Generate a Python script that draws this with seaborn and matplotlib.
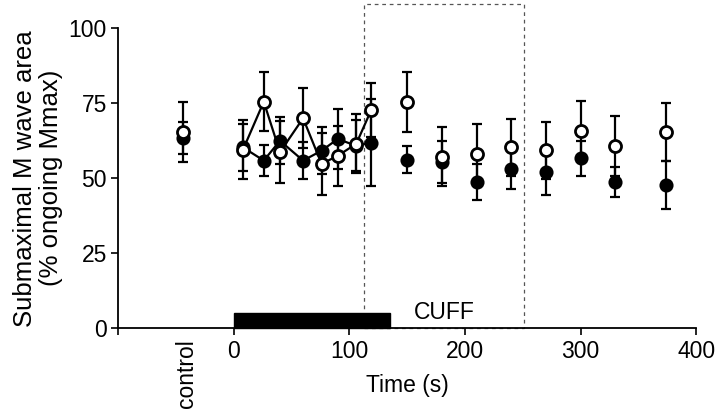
import matplotlib
matplotlib.use("Agg")
import matplotlib.pyplot as plt
import matplotlib.patches as mpatches
import seaborn as sns
import pandas as pd

# ---- data ----
control_x = -44
control_open = 65.4
control_open_err = 9.9
control_filled = 63.3
control_filled_err = 5.3

cuff_t = [8, 26, 40, 60, 76, 90, 106, 119]
cuff_open = [59.5, 75.5, 58.7, 70.0, 54.8, 57.5, 61.5, 72.8]
cuff_open_err = [9.9, 9.8, 10.3, 10.0, 10.4, 10.0, 9.8, 8.9]
cuff_filled = [60.3, 55.9, 62.5, 55.9, 59.2, 63.1, 60.8, 61.9]
cuff_filled_err = [7.9, 5.3, 7.9, 6.1, 7.8, 9.9, 8.5, 14.5]

post_t = [150, 180, 210, 240, 270, 300, 330, 374]
post_open = [75.5, 57.2, 58.1, 60.3, 59.4, 65.9, 60.8, 65.4]
post_open_err = [10.0, 9.9, 10.0, 9.5, 9.5, 10.0, 10.0, 9.7]
post_filled = [56.2, 55.4, 48.7, 53.0, 52.0, 56.7, 48.9, 47.8]
post_filled_err = [4.5, 7.0, 6.0, 6.7, 7.6, 5.8, 5.0, 8.0]

x_ticks = [0, 100, 200, 300, 400]
y_ticks = [0, 25, 50, 75, 100]
cuff_bar = (0, 135, 5.2)          # start, end, height
window = (112.6, 251, 108)        # dashed box: x0, x1, top
cuff_label = "CUFF"

sns.set_theme(style="white")
plt.rcParams['font.family'] = ['Liberation Sans', 'DejaVu Sans']

fig = plt.figure(figsize=(7.2, 4.2), dpi=100)
ax = fig.add_axes([0.164, 0.218, 0.803, 0.715])

cuff_df = pd.DataFrame({"t": cuff_t + cuff_t,
                        "v": cuff_open + cuff_filled,
                        "s": ["open"] * len(cuff_t) + ["filled"] * len(cuff_t)})

all_t = [control_x] + cuff_t + post_t
all_open = [control_open] + cuff_open + post_open
all_open_err = [control_open_err] + cuff_open_err + post_open_err
all_filled = [control_filled] + cuff_filled + post_filled
all_filled_err = [control_filled_err] + cuff_filled_err + post_filled_err

# error bars
ax.errorbar(all_t, all_filled, yerr=all_filled_err, fmt='none', ecolor='black',
            elinewidth=1.6, capsize=3.8, capthick=1.6, zorder=2)
ax.errorbar(all_t, all_open, yerr=all_open_err, fmt='none', ecolor='black',
            elinewidth=1.6, capsize=3.8, capthick=1.6, zorder=2)

# connecting lines during cuff
sns.lineplot(data=cuff_df, x="t", y="v", units="s", estimator=None, color='black',
             linewidth=1.6, ax=ax, zorder=3, legend=False)

# markers
sns.scatterplot(x=all_t, y=all_filled, ax=ax, s=75, color='black',
                edgecolor='black', linewidth=1.5, zorder=4, legend=False)
sns.scatterplot(x=all_t, y=all_open, ax=ax, s=75, color='white',
                edgecolor='black', linewidth=2.0, zorder=5, legend=False)

# cuff bar
ax.add_patch(mpatches.Rectangle((cuff_bar[0], 0), cuff_bar[1] - cuff_bar[0], cuff_bar[2],
                                facecolor='black', edgecolor='black', zorder=6, clip_on=False))
ax.text(182, 5.4, cuff_label, ha='center', va='center', fontsize=16.5, color='black')

# dashed window
ax.add_patch(mpatches.Rectangle((window[0], 0), window[1] - window[0], window[2],
                                facecolor='none', edgecolor='#555555', linewidth=0.9,
                                linestyle=(0, (3, 3)), zorder=1, clip_on=False))

ax.set_xlim(-100, 400)
ax.set_ylim(0, 100)
ax.set_xticks([-100] + x_ticks)
ax.set_xticklabels([''] + [str(v) for v in x_ticks])
ax.set_yticks(y_ticks)
ax.set_yticklabels([str(v) for v in y_ticks])
ax.tick_params(axis='both', which='both', direction='out', length=5, width=1.2,
               labelsize=16.5, color='black', labelcolor='black', pad=3)
ax.tick_params(axis='x', bottom=True)
ax.tick_params(axis='y', left=True)
for side in ['top', 'right']:
    ax.spines[side].set_visible(False)
for side in ['left', 'bottom']:
    ax.spines[side].set_color('black')
    ax.spines[side].set_linewidth(1.3)

ax.set_xlabel("Time (s)", fontsize=16.5, labelpad=8, color='black')
ax.set_ylabel("Submaximal M wave area\n(% ongoing Mmax)", fontsize=18.5, labelpad=4,
              color='black', linespacing=1.1)

ax.text(-41, -0.035, "control", rotation=90, ha='center', va='top', fontsize=16.5,
        color='black', transform=ax.get_xaxis_transform())

fig.savefig("out.png", dpi=100)
